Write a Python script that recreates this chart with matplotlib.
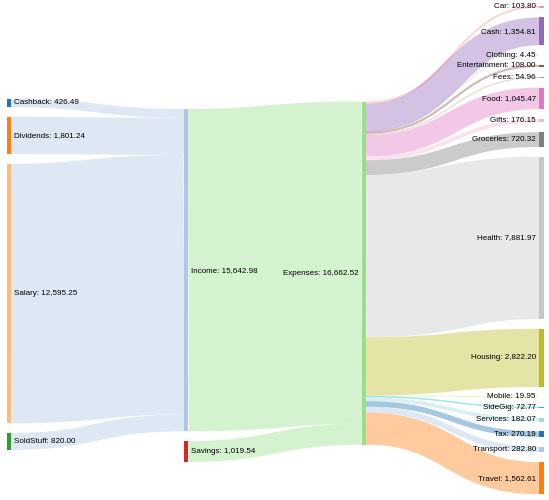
import matplotlib
matplotlib.use("Agg")
import matplotlib.pyplot as plt
from matplotlib.path import Path
from matplotlib.patches import PathPatch, Rectangle

# --- data ---
income_sources = ["Cashback", "Dividends", "Salary", "SoldStuff"]
income_values = [426.49, 1801.24, 12595.25, 820.00]
savings_value = 1019.54
expense_names = ["Car", "Cash", "Clothing", "Entertainment", "Fees", "Food", "Gifts",
                 "Groceries", "Health", "Housing", "Mobile", "SideGig", "Services",
                 "Tax", "Transport", "Travel"]
expense_values = [103.80, 1354.81, 4.45, 108.00, 54.96, 1045.47, 176.15, 720.32,
                  7881.97, 2822.20, 19.95, 72.77, 182.07, 270.19, 282.80, 1562.61]

# links in the order d3 would see them (source, target, value)
links = [(s, "Income", v) for s, v in zip(income_sources, income_values)]
links.append(("Income", "Expenses", sum(income_values)))
links.append(("Savings", "Expenses", savings_value))
links += [("Expenses", n, v) for n, v in zip(expense_names, expense_values)]

# node order = first appearance, colours from category20 (tab20)
node_order = []
for s, t, _ in links:
    for n in (s, t):
        if n not in node_order:
            node_order.append(n)
pal = plt.get_cmap("tab20").colors
colors = {n: pal[i % 20] for i, n in enumerate(node_order)}

columns = [income_sources, ["Income", "Savings"], ["Expenses"], expense_names]

# --- layout (pixel space) ---
W, H, DPI = 549, 500, 100
k = 0.0206          # px per unit
pad = 9.7
node_w = 4.3
col_x = [6.5 + i * 177.6 for i in range(4)]
col_top = [98.5, 109.0, 101.5, 5.6]

node_val = {}
for s, t, v in links:
    node_val.setdefault(s, [0, 0])[0] += v
    node_val.setdefault(t, [0, 0])[1] += v
node_val = {n: max(a, b) for n, (a, b) in node_val.items()}

pos = {}
for ci, names in enumerate(columns):
    y = col_top[ci]
    for n in names:
        h = node_val[n] * k
        pos[n] = (col_x[ci], y, y + h)
        y += h + pad

fig = plt.figure(figsize=(W / DPI, H / DPI), dpi=DPI)
ax = fig.add_axes([0, 0, 1, 1])
ax.set_xlim(0, W)
ax.set_ylim(H, 0)
ax.axis("off")

out_off = {n: pos[n][1] for n in pos}
in_off = {n: pos[n][1] for n in pos}
for s, t, v in links:
    w = v * k
    ys = out_off[s] + w / 2
    yt = in_off[t] + w / 2
    out_off[s] += w
    in_off[t] += w
    x0 = pos[s][0] + node_w
    x1 = pos[t][0]
    xm = (x0 + x1) / 2
    path = Path([(x0, ys), (xm, ys), (xm, yt), (x1, yt)],
                [Path.MOVETO, Path.CURVE4, Path.CURVE4, Path.CURVE4])
    ax.add_patch(PathPatch(path, facecolor="none", edgecolor=colors[t], alpha=0.4,
                           linewidth=max(1, w) * 72 / DPI, capstyle="butt"))

for n, (x, y0, y1) in pos.items():
    ax.add_patch(Rectangle((x, y0), node_w, y1 - y0, facecolor=colors[n], edgecolor="none"))
    label = f"{n}: {node_val[n]:,.2f}"
    if x < W / 2:
        ax.text(x + node_w + 3, (y0 + y1) / 2, label, ha="left", va="center",
                fontsize=5.8, family="Liberation Sans")
    else:
        ax.text(x - 3.5, (y0 + y1) / 2, label, ha="right", va="center",
                fontsize=5.8, family="Liberation Sans")

fig.savefig("out.png", dpi=DPI)
